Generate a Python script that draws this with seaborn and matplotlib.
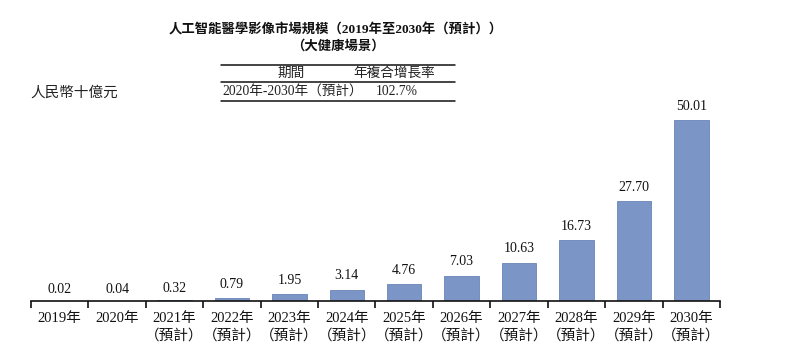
import matplotlib
matplotlib.use("Agg")
import matplotlib.pyplot as plt
from matplotlib.lines import Line2D
import seaborn as sns
import pandas as pd
import numpy as np

years = ["2019年", "2020年", "2021年", "2022年", "2023年", "2024年",
         "2025年", "2026年", "2027年", "2028年", "2029年", "2030年"]
forecast = [False, False, True, True, True, True, True, True, True, True, True, True]
market_size = [0.02, 0.04, 0.32, 0.79, 1.95, 3.14, 4.76, 7.03, 10.63, 16.73, 27.70, 50.01]
value_labels = ["0.02", "0.04", "0.32", "0.79", "1.95", "3.14", "4.76",
                "7.03", "10.63", "16.73", "27.70", "50.01"]

title_line1 = "人工智能醫學影像市場規模（2019年至2030年（預計））"
title_line2 = "（大健康場景）"
table_header = ["期間", "年複合增長率"]
table_row = ["2020年-2030年（預計）", "102.7%"]
unit_label = "人民幣十億元"

sns.set_theme(style="white")
FONT = ["Liberation Serif", "Noto Sans CJK TC", "DejaVu Sans"]
plt.rcParams["font.family"] = FONT

W, H = 800, 348
fig = plt.figure(figsize=(W / 100, H / 100), dpi=100)
fig.patch.set_facecolor("white")

# plot area in pixels: x 31..720, baseline at 301, top at 100
left, right, bottom_px, top_px = 31, 720, 301, 100
ax = fig.add_axes([left / W, 1 - bottom_px / H, (right - left) / W, (bottom_px - top_px) / H])

tick_labels = [f"{y}\n（預計）" if f else y for y, f in zip(years, forecast)]
df = pd.DataFrame({"year": tick_labels, "value": market_size})
sns.barplot(data=df, x="year", y="value", color="#7b95c6", saturation=1,
            width=0.6, edgecolor="#6a84b5", linewidth=0.6, ax=ax)

ymax = 50.01 * (bottom_px - top_px) / 181
ax.set_xlim(-0.5, len(years) - 0.5)
ax.set_ylim(0, ymax)

for i, (v, lab) in enumerate(zip(market_size, value_labels)):
    off = 1.3 if v < 0.5 else 2.0
    ax.text(i, v + off, lab, ha="center", va="bottom", fontsize=10,
            family=FONT, color="#111111")

for s in ["left", "right", "top"]:
    ax.spines[s].set_visible(False)
ax.spines["bottom"].set_color("#111111")
ax.spines["bottom"].set_linewidth(1.2)
ax.set_yticks([])
ax.set_xlabel("")
ax.set_ylabel("")
ax.set_xticks(np.arange(len(years)))
ax.set_xticklabels(tick_labels, fontsize=10.5, family=FONT, color="#111111",
                   linespacing=1.3)
ax.tick_params(axis="x", length=0, pad=8)
# boundary ticks between categories
for b in np.arange(-0.5, len(years) + 0.5, 1.0):
    ax.plot([b, b], [0, -0.035 * ymax], color="#111111", lw=1.2,
            clip_on=False, solid_capstyle="butt")

def px(x, y):
    return x / W, 1 - y / H

fig.text(*px(336, 30), title_line1, ha="center", va="center",
         fontsize=9.6, fontweight="bold", family=FONT, color="#111111")
fig.text(*px(338, 46), title_line2, ha="center", va="center",
         fontsize=9.6, fontweight="bold", family=FONT, color="#111111")

for yy in (65, 82, 101):
    fig.add_artist(Line2D([221 / W, 455 / W], [1 - yy / H, 1 - yy / H],
                          color="#111111", lw=1.1, transform=fig.transFigure))
fig.text(*px(291, 73.5), table_header[0], ha="center", va="center",
         fontsize=9.8, family=FONT, color="#222222")
fig.text(*px(394, 73.5), table_header[1], ha="center", va="center",
         fontsize=9.8, family=FONT, color="#222222")
fig.text(*px(222, 91.5), table_row[0], ha="left", va="center",
         fontsize=9.8, family=FONT, color="#222222")
fig.text(*px(397, 91.5), table_row[1], ha="center", va="center",
         fontsize=9.8, family=FONT, color="#222222")

fig.text(*px(30, 93), unit_label, ha="left", va="center", fontsize=10.5,
         style="italic", family=FONT, color="#222222")

fig.savefig("out.png", dpi=100, facecolor="white")
